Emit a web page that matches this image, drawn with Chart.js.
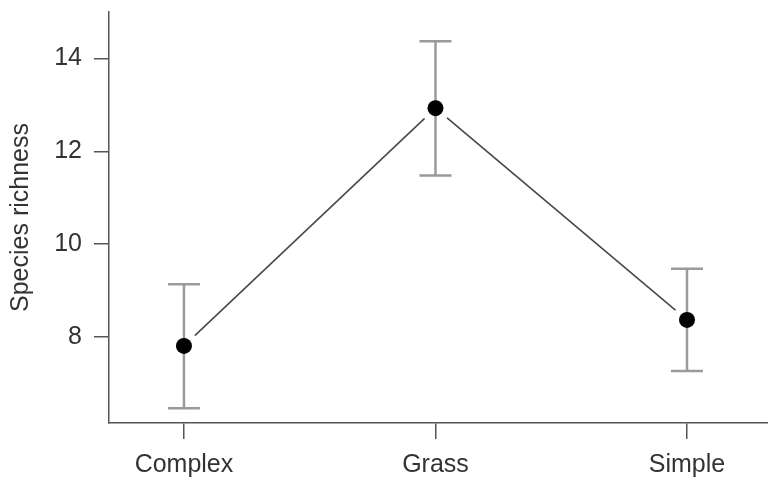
<!DOCTYPE html>
<html>
<head>
<meta charset="utf-8">
<script src="https://cdn.jsdelivr.net/npm/chart.js@4"></script>
<style>
  html, body { margin: 0; padding: 0; background: #fff; }
  #wrap { width: 768px; height: 478px; }
</style>
</head>
<body>
<div id="wrap"><canvas id="richnessCanvas" width="768" height="478"></canvas></div>
<script>
// Habitat types and mean species richness with error bar limits
const habitats = ["Complex", "Grass", "Simple"];
const meanRichness = [7.81, 12.93, 8.37];
const upperLimit = [9.14, 14.37, 9.47];
const lowerLimit = [6.47, 11.48, 7.27];
const yTicks = [8, 10, 12, 14];

const FONT = "'Liberation Sans', Arial, Helvetica, sans-serif";
const AXIS = "#555";
const TEXT = "#333";
const BAR = "#9a9a9a";

const idx = habitats.map((_, i) => i);
const pts = (vals) => vals.map((v, i) => ({ x: i, y: v }));

// error bar stems, one small line per habitat
const stems = idx.map(i => ({
  type: "line",
  data: [{ x: i, y: lowerLimit[i] }, { x: i, y: upperLimit[i] }],
  borderColor: BAR,
  borderWidth: 2.5,
  pointRadius: 0,
  order: 2,
}));

new Chart(document.getElementById("richnessCanvas"), {
  type: "scatter",
  data: {
    datasets: [
      // means
      {
        data: pts(meanRichness),
        backgroundColor: "#000",
        borderWidth: 0,
        pointRadius: 8,
        order: 0,
      },
      // caps
      {
        data: pts(upperLimit).concat(pts(lowerLimit)),
        pointStyle: "line",
        pointRadius: 16,
        borderColor: BAR,
        borderWidth: 2.5,
        order: 1,
      },
      ...stems,
      // white halo so the connecting line stops short of each point (R type="b")
      {
        data: pts(meanRichness),
        backgroundColor: "#fff",
        borderWidth: 0,
        pointRadius: 15,
        order: 3,
      },
      {
        type: "line",
        data: pts(meanRichness),
        borderColor: "#4a4a4a",
        borderWidth: 1.6,
        pointRadius: 0,
        tension: 0,
        order: 4,
      },
    ],
  },
  options: {
    responsive: false,
    animation: false,
    events: [],
    layout: { autoPadding: false, padding: { top: 12, right: 0, left: 0, bottom: 0 } },
    plugins: { legend: { display: false }, tooltip: { enabled: false } },
    scales: {
      x: {
        type: "linear",
        min: -0.298,
        max: 2.322,
        afterBuildTicks: (s) => { s.ticks = idx.map(v => ({ value: v })); },
        afterFit: (s) => { s.height = 55; s.paddingLeft = 0; s.paddingRight = 0; },
        ticks: {
          color: TEXT,
          font: { family: FONT, size: 25 },
          padding: 11,
          maxRotation: 0,
          autoSkip: false,
          callback: (v) => habitats[v],
        },
        grid: { drawOnChartArea: false, drawTicks: true, tickLength: 16, color: AXIS, lineWidth: 1.5 },
        border: { display: true, color: AXIS, width: 1.5 },
      },
      y: {
        min: 6.15,
        max: 15,
        afterBuildTicks: (s) => { s.ticks = yTicks.map(v => ({ value: v })); },
        afterFit: (s) => { s.width = 109; s.paddingTop = 0; s.paddingBottom = 0; },
        ticks: {
          color: TEXT,
          font: { family: FONT, size: 25 },
          padding: 12,
        },
        grid: { drawOnChartArea: false, drawTicks: true, tickLength: 15, color: AXIS, lineWidth: 1.5 },
        border: { display: true, color: AXIS, width: 1.5 },
        title: {
          display: true,
          text: "Species richness",
          color: TEXT,
          font: { family: FONT, size: 25 },
          padding: { top: 6, bottom: 0 },
        },
      },
    },
  },
});
</script>
</body>
</html>
